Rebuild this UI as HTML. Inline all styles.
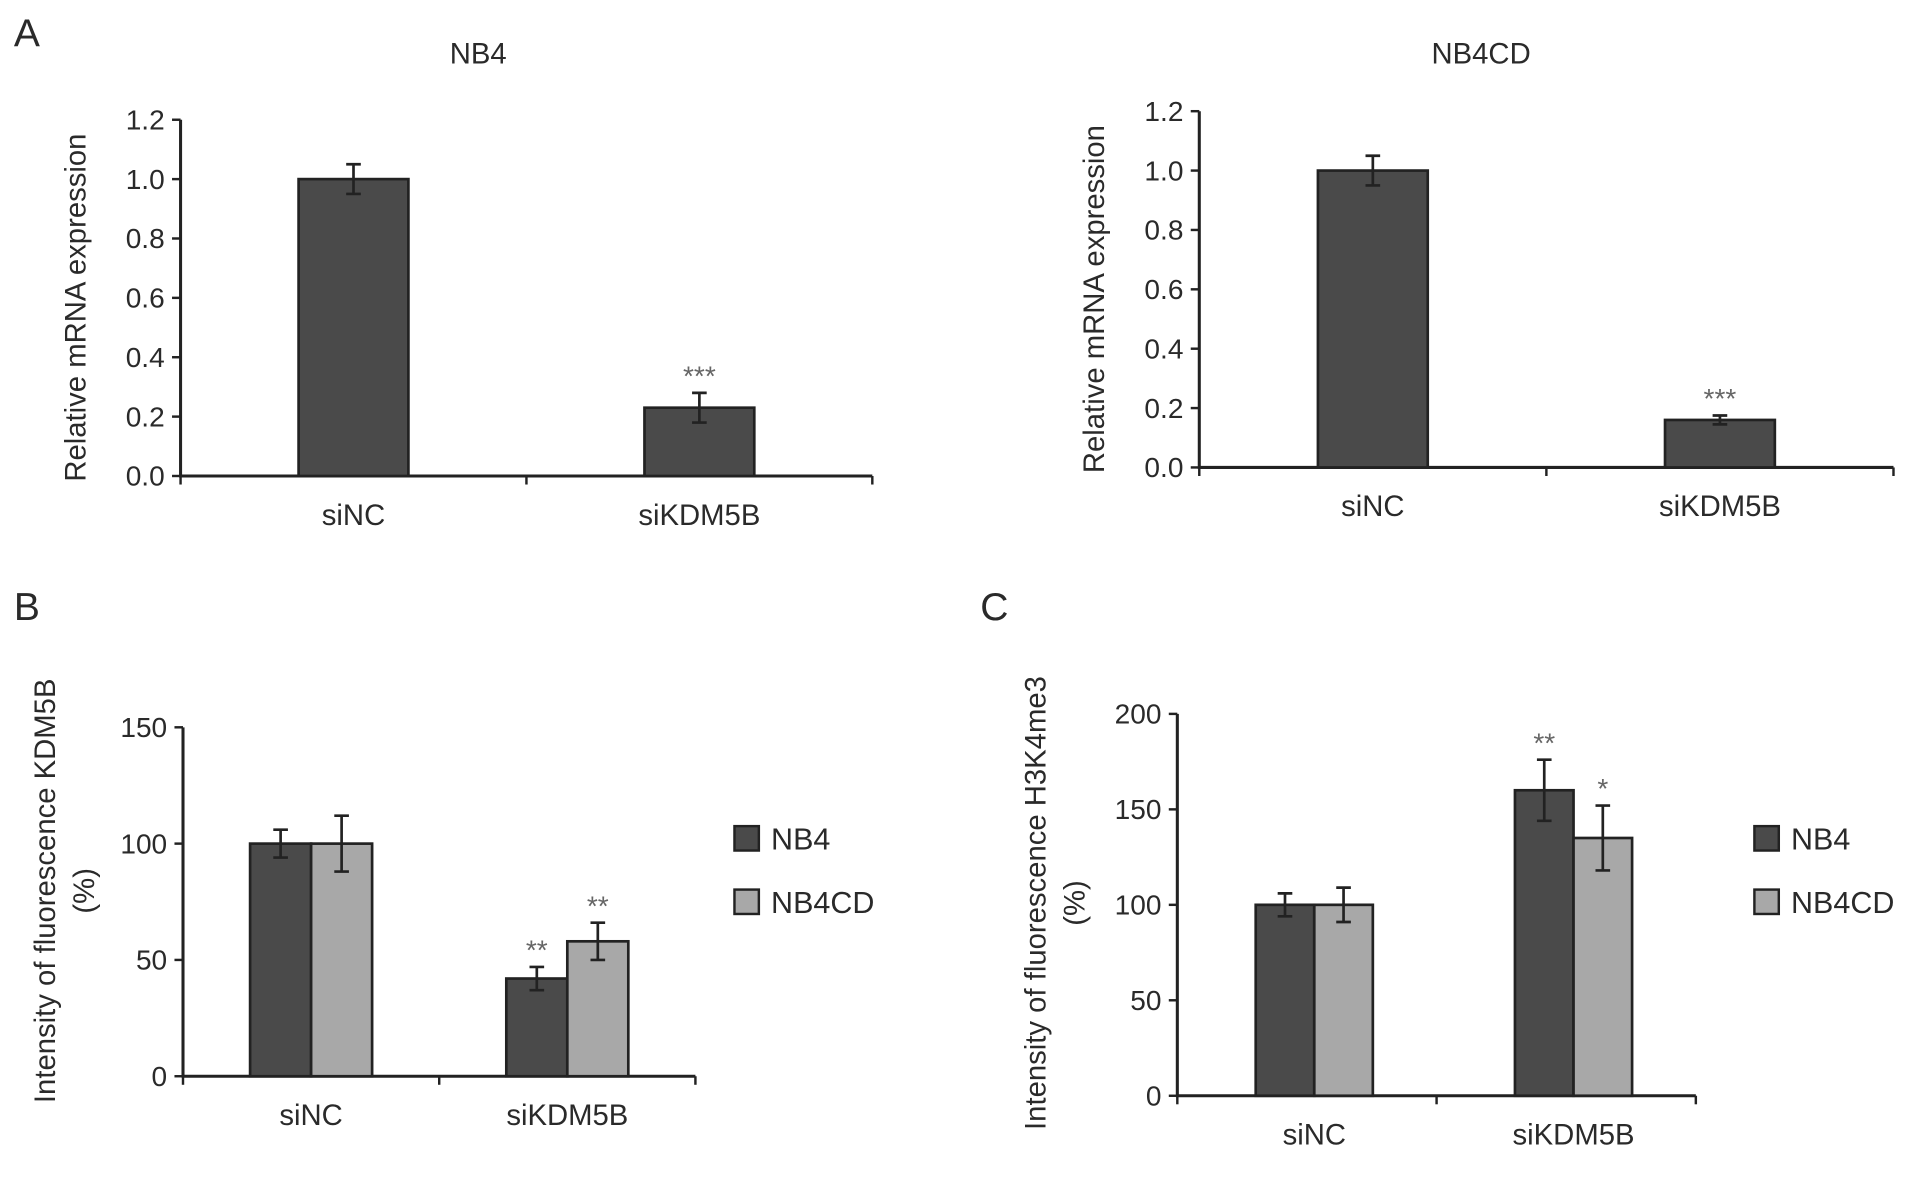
<!DOCTYPE html>
<html><head><meta charset="utf-8"><style>
html,body{margin:0;padding:0;background:#fff;}
svg{display:block;}
text{font-family:"Liberation Sans",Arial,sans-serif;fill:#2a2a2a;}
</style></head><body>
<svg id="fig" width="1913" height="1185" viewBox="0 0 1568 971" xmlns="http://www.w3.org/2000/svg"></svg>
<script>
// Panel A left (NB4)
const aCats = ["siNC", "siKDM5B"];
const aNB4Vals = [1.0, 0.23];
const aNB4Errs = [0.05, 0.05];
const aNB4Sig = ["", "***"];
const aTicks = [0.0, 0.2, 0.4, 0.6, 0.8, 1.0, 1.2];
const aTickLabels = ["0.0", "0.2", "0.4", "0.6", "0.8", "1.0", "1.2"];
// Panel A right (NB4CD)
const aNB4CDVals = [1.0, 0.16];
const aNB4CDErrs = [0.05, 0.015];
const aNB4CDSig = ["", "***"];
// Panel B
const bCats = ["siNC", "siKDM5B"];
const bNB4 = [100, 42];
const bNB4Err = [6, 5];
const bNB4CD = [100, 58];
const bNB4CDErr = [12, 8];
const bSigNB4 = ["", "**"];
const bSigNB4CD = ["", "**"];
const bTicks = [0, 50, 100, 150];
// Panel C
const cCats = ["siNC", "siKDM5B"];
const cNB4 = [100, 160];
const cNB4Err = [6, 16];
const cNB4CD = [100, 135];
const cNB4CDErr = [9, 17];
const cSigNB4 = ["", "**"];
const cSigNB4CD = ["", "*"];
const cTicks = [0, 50, 100, 150, 200];
const seriesNames = ["NB4", "NB4CD"];

const NS = "http://www.w3.org/2000/svg";
const svg = document.getElementById("fig");
function el(tag, attrs, parent, txt) {
  const e = document.createElementNS(NS, tag);
  for (const k in attrs) e.setAttribute(k, attrs[k]);
  if (txt !== undefined) e.textContent = txt;
  (parent || svg).appendChild(e);
  return e;
}
const DARK = "#4a4a4a", LIGHT = "#a8a8a8", AX = "#222";

function chart(cfg) {
  const g = el("g", {});
  
  
  const yS = v => cfg.y0 - (v - cfg.ymin) / (cfg.ymax - cfg.ymin) * (cfg.y0 - cfg.ytop);
  const ax = el("path", {d: `M${cfg.x0} ${cfg.ytop} V${cfg.y0} H${cfg.x1}`, stroke: AX, "stroke-width": 2.5, fill: "none"}, g);
  
  
  cfg.ticks.forEach((t, i) => {
    const y = yS(t);
    el("line", {x1: cfg.x0 - 7, x2: cfg.x0, y1: y, y2: y, stroke: AX, "stroke-width": 2}, g);
    const tl = el("text", {x: cfg.x0 - 13, y: y + 8, "text-anchor": "end", "font-size": 23}, g, cfg.tickLabels ? cfg.tickLabels[i] : String(t));
    
    
  });
  const n = cfg.cats.length;
  const step = (cfg.x1 - cfg.x0) / n;
  for (let i = 0; i <= n; i++) {
    const x = cfg.x0 + step * i;
    el("line", {x1: x, x2: x, y1: cfg.y0, y2: cfg.y0 + 7, stroke: AX, "stroke-width": 2}, g);
  }
  cfg.cats.forEach((c, i) => {
    const cx = cfg.x0 + step * (i + 0.5) + (cfg.offset || 0);
    const t = el("text", {x: cx, y: cfg.y0 + 40, "text-anchor": "middle", "font-size": 24}, g, c);
    
    
    const ns = cfg.series.length;
    cfg.series.forEach((s, j) => {
      const bx = cx - cfg.bw * ns / 2 + cfg.bw * j;
      const v = s.vals[i], e = s.errs[i];
      const r = el("rect", {x: bx, y: yS(v), width: cfg.bw, height: cfg.y0 - yS(v), fill: s.color, stroke: AX, "stroke-width": 2.2}, g);
      
      
      const mx = bx + cfg.bw / 2;
      const eb = el("path", {d: `M${mx} ${yS(v + e)} V${yS(v - e)} M${mx - 6} ${yS(v + e)} H${mx + 6} M${mx - 6} ${yS(v - e)} H${mx + 6}`, stroke: AX, "stroke-width": 2.2, fill: "none"}, g);
      
      
      if (s.sig[i]) {
        const st = el("text", {x: mx, y: yS(v + e) - 6, "text-anchor": "middle", "font-size": 23, style: "fill:#666"}, g, s.sig[i]);
        
        
      }
    });
  });
  const yt = cfg.ytitle;
  yt.lines.forEach((ln, k) => {
    const x = yt.x + k * 32;
    const t = el("text", {x: x, y: yt.y, "text-anchor": "middle", "font-size": 24, transform: `rotate(-90 ${x} ${yt.y})`}, g, ln);
    
    
  });
  if (cfg.title) {
    const t = el("text", {x: cfg.title.x, y: 52, "text-anchor": "middle", "font-size": 24}, g, cfg.title.text);
    
    
  }
  if (cfg.legend) {
    cfg.series.forEach((s, j) => {
      const ly = cfg.legend.y + j * 52;
      const lg = el("g", {}, g);
      
      
      el("rect", {x: cfg.legend.x, y: ly - 10, width: 20, height: 20, fill: s.color, stroke: AX, "stroke-width": 2}, lg);
      el("text", {x: cfg.legend.x + 30, y: ly + 9, "font-size": 25}, lg, seriesNames[j]);
    });
  }
}

chart({name: "chart-a-nb4", x0: 148, x1: 715, y0: 390, ytop: 98, ymin: 0, ymax: 1.2, ticks: aTicks, tickLabels: aTickLabels,
  cats: aCats, bw: 90, series: [{key: "nb4", vals: aNB4Vals, errs: aNB4Errs, sig: aNB4Sig, color: DARK}],
  ytitle: {x: 70, y: 252, lines: ["Relative mRNA expression"]}, title: {x: 392, text: "NB4"}});
chart({name: "chart-a-nb4cd", x0: 983, x1: 1552, y0: 383, ytop: 91, ymin: 0, ymax: 1.2, ticks: aTicks, tickLabels: aTickLabels,
  cats: aCats, bw: 90, series: [{key: "nb4cd", vals: aNB4CDVals, errs: aNB4CDErrs, sig: aNB4CDSig, color: DARK}],
  ytitle: {x: 905, y: 245, lines: ["Relative mRNA expression"]}, title: {x: 1214, text: "NB4CD"}});
chart({name: "chart-b", x0: 150, x1: 570, y0: 882, ytop: 596, ymin: 0, ymax: 150, ticks: bTicks,
  cats: bCats, bw: 50, series: [
    {key: "nb4", vals: bNB4, errs: bNB4Err, sig: bSigNB4, color: DARK},
    {key: "nb4cd", vals: bNB4CD, errs: bNB4CDErr, sig: bSigNB4CD, color: LIGHT}],
  ytitle: {x: 45, y: 730, lines: ["Intensity of fluorescence KDM5B", "(%)"]}, legend: {x: 602, y: 687}});
chart({name: "chart-c", x0: 965, x1: 1390, y0: 898, ytop: 585, ymin: 0, ymax: 200, ticks: cTicks, offset: 6,
  cats: cCats, bw: 48, series: [
    {key: "nb4", vals: cNB4, errs: cNB4Err, sig: cSigNB4, color: DARK},
    {key: "nb4cd", vals: cNB4CD, errs: cNB4CDErr, sig: cSigNB4CD, color: LIGHT}],
  ytitle: {x: 857, y: 740, lines: ["Intensity of fluorescence H3K4me3", "(%)"]}, legend: {x: 1438, y: 687}});

[["A", 22, 38], ["B", 22, 508], ["C", 815, 508]].forEach(p => {
  const t = el("text", {x: p[1], y: p[2], "text-anchor": "middle", "font-size": 32}, svg, p[0]);
  
  
});
</script>
</body></html>
